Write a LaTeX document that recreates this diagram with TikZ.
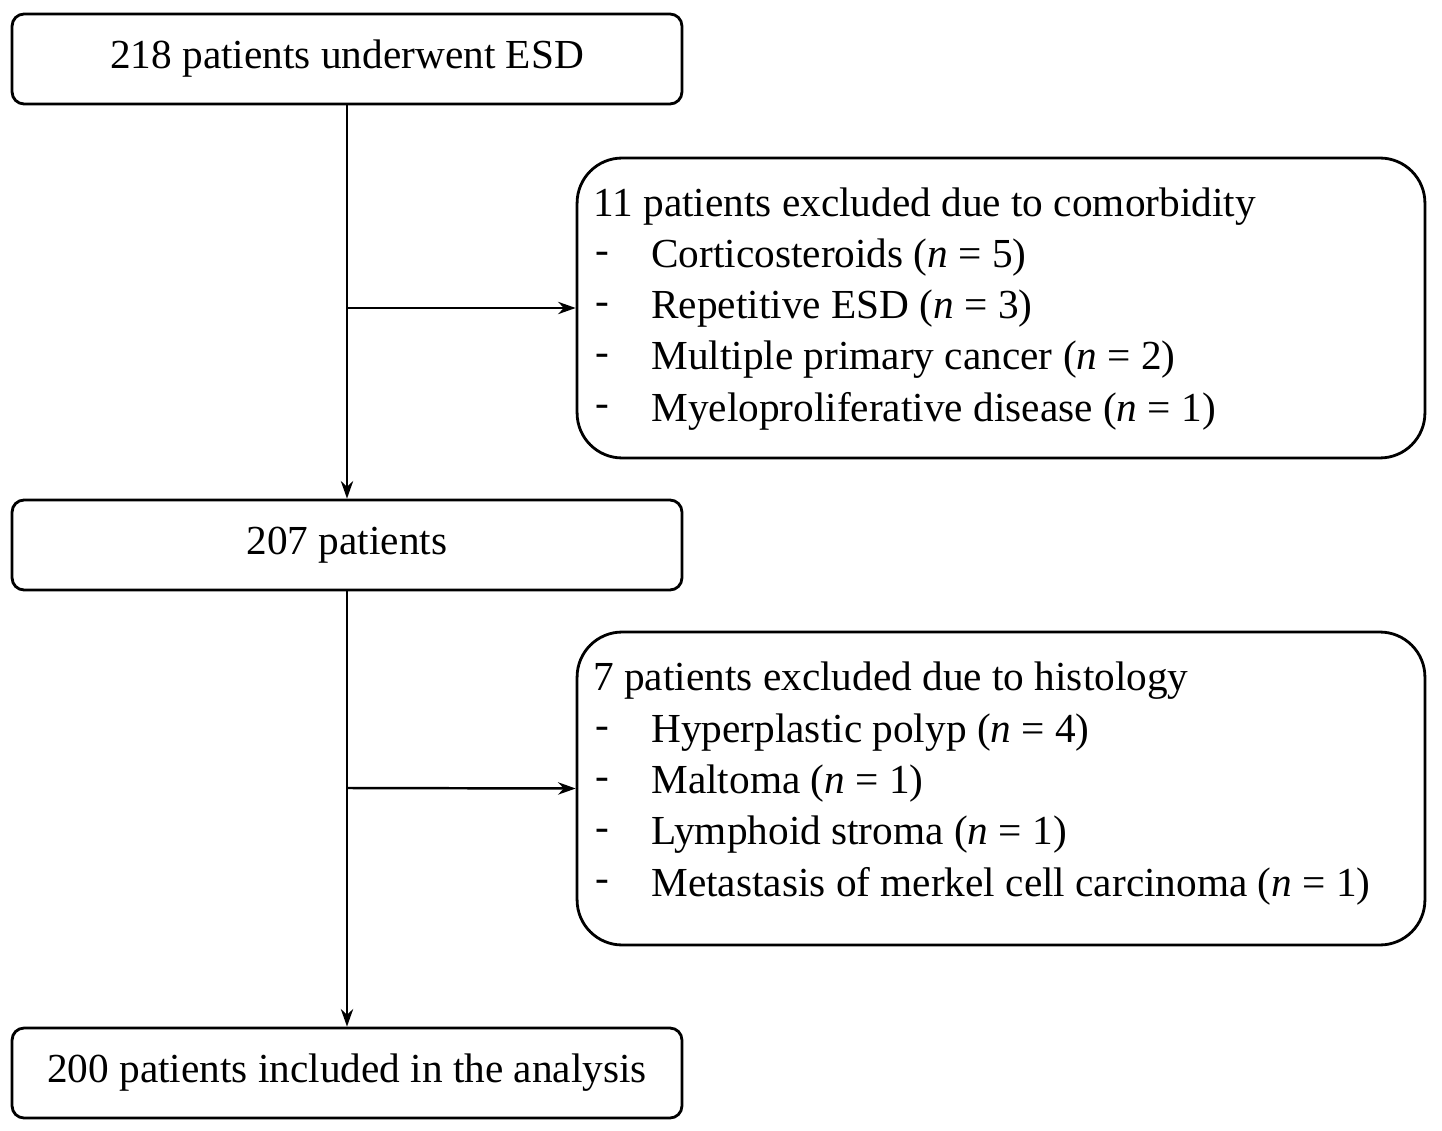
\documentclass[tikz,border=0pt]{standalone}
\usepackage{fontspec}
\setmainfont{Liberation Serif}
\usetikzlibrary{arrows.meta}
\begin{document}
\begin{tikzpicture}[x=0.02cm,y=-0.02cm,
  sbox/.style={draw,line width=1.6pt,rounded corners=0.24cm,minimum width=13.4cm,minimum height=1.8cm,inner sep=0,font=\fontsize{23.5}{28}\selectfont},
  bbox/.style={draw,line width=1.6pt,rounded corners=0.9cm,minimum width=16.96cm,inner sep=0},
  txt/.style={anchor=west,inner sep=0,font=\fontsize{23.5}{28}\selectfont},
  arr/.style={line width=1.4pt,-{Stealth[length=10pt,width=7pt]}}]
\useasboundingbox (0,0) rectangle (1442,1131);
\node[sbox] (a) at (347,59) {218 patients underwent ESD};
\node[sbox] (b) at (347,545) {207 patients};
\node[sbox] (c) at (347,1073) {200 patients included in the analysis};
\node[bbox,minimum height=6cm] (r1) at (1001,308) {};
\node[bbox,minimum height=6.26cm] (r2) at (1001,788.5) {};
\node[txt] at (593,207) {11 patients excluded due to comorbidity};
\foreach \y/\t in {258/{Corticosteroids (\textit{n} = 5)},309/{Repetitive ESD (\textit{n} = 3)},360/{Multiple primary cancer (\textit{n} = 2)},411/{Myeloproliferative disease (\textit{n} = 1)}}{
  \node[txt] at (595,\y) {-}; \node[txt] at (651,\y) {\t};}
\node[txt] at (593,681) {7 patients excluded due to histology};
\foreach \y/\t in {733/{Hyperplastic polyp (\textit{n} = 4)},784/{Maltoma (\textit{n} = 1)},835/{Lymphoid stroma (\textit{n} = 1)},886/{Metastasis of merkel cell carcinoma (\textit{n} = 1)}}{
  \node[txt] at (595,\y) {-}; \node[txt] at (651,\y) {\t};}
\coordinate (j1) at (347,308);
\coordinate (j2) at (347,788);
\draw[arr] (a) -- (b);
\draw[arr] (j1) -- (r1.west);
\draw[arr] (b) -- (c);
\draw[arr] (j2) -- (r2.west);
\end{tikzpicture}
\end{document}
